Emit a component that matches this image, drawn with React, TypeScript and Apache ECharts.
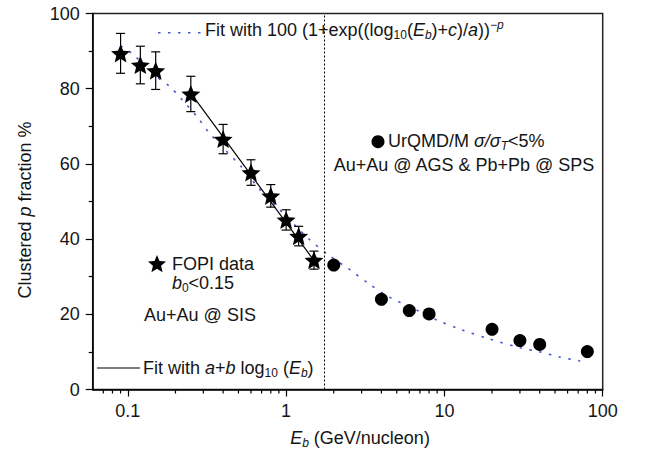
import React, { useEffect, useRef } from "react";
import * as echarts from "echarts";

// FOPI data (stars) with error bars
const fopiE = [0.09, 0.12, 0.15, 0.25, 0.4, 0.6, 0.8, 1.0, 1.2, 1.5];
const fopiY = [89.4, 86.3, 84.8, 78.6, 66.6, 57.7, 51.5, 45.1, 40.8, 34.4];
const fopiErr = [5.3, 5.0, 5.0, 4.7, 3.9, 3.4, 3.0, 2.7, 2.6, 2.4];

// UrQMD/M (circles)
const urqmdE = [2, 4, 6, 8, 20, 30, 40, 80];
const urqmdY = [33.1, 24.0, 21.0, 20.1, 16.0, 13.0, 12.0, 10.1];

// Linear-in-log fit a + b log10(Eb)
const linFitE = [0.25, 1.5];
const linFitY = [78.8, 34.3];

// Fit 100 (1+exp((log10(Eb)+c)/a))^-p
const fermiFitE = [0.09, 0.106, 0.153, 0.185, 0.219, 0.273, 0.322, 0.4, 0.525, 0.685, 0.873, 1.38, 1.85, 2.54, 3.31, 4.43, 6.7, 8.95, 12.6, 19.4, 30.1, 40.2, 53.8, 72];
const fermiFitY = [91.4, 89.4, 83.1, 80.5, 77.2, 72.6, 68.6, 64.3, 59.1, 53.1, 48.6, 40.2, 35.8, 31.8, 28.2, 24.7, 21.1, 18.5, 16.0, 13.4, 11.1, 10.0, 8.6, 7.6];

// Vertical separator position
const separatorE = 1.75;

// Axis ranges and ticks
const xMin = 0.06;
const xMax = 100;
const yMin = 0;
const yMax = 100;
const yInterval = 20;
const xMinorTicks = [0.07, 0.08, 0.09, 0.2, 0.3, 0.4, 0.5, 0.6, 0.7, 0.8, 0.9, 2, 3, 4, 5, 6, 7, 8, 9, 20, 30, 40, 50, 60, 70, 80, 90];

const FONT = "'Liberation Sans', Arial, Helvetica, sans-serif";
const BLUE = "#4558cc";
const TXT = "#151515";

const starOuterInner: number[][] = [
  [0, -10], [2.645, -3.64], [9.511, -3.09], [4.28, 1.39], [5.878, 8.09],
  [0, 4.5], [-5.878, 8.09], [-4.28, 1.39], [-9.511, -3.09], [-2.645, -3.64],
];
const starPath =
  "path://M" + starOuterInner.map((p) => p[0] + "," + p[1]).join("L") + "Z";

const rich = {
  n: { fontSize: 18, lineHeight: 22, fontFamily: FONT, fill: TXT, color: TXT },
  i: { fontSize: 18, lineHeight: 22, fontFamily: FONT, fontStyle: "italic", fill: TXT, color: TXT },
  sub: { fontSize: 12, lineHeight: 12, fontFamily: FONT, verticalAlign: "bottom", fill: TXT, color: TXT },
  isub: { fontSize: 12, lineHeight: 12, fontFamily: FONT, fontStyle: "italic", verticalAlign: "bottom", fill: TXT, color: TXT },
  isup: { fontSize: 12, lineHeight: 12, fontFamily: FONT, fontStyle: "italic", verticalAlign: "top", fill: TXT, color: TXT },
};

function txt(text: string, x: number, y: number, align: string, extra: any = {}) {
  return {
    type: "text",
    x,
    y,
    ...extra,
    style: {
      text,
      rich,
      font: `18px ${FONT}`,
      fill: TXT,
      align,
      verticalAlign: "middle",
    },
    z: 10,
  };
}

export default function App() {
  const ref = useRef<HTMLDivElement>(null);
  useEffect(() => {
    document.body.style.margin = "0";
    const chart = echarts.init(ref.current!, null, { renderer: "svg" });
    const option: any = {
      animation: false,
      grid: {
        left: 92.7,
        right: 43.3,
        top: 13.5,
        bottom: 64.5,
        show: true,
        borderColor: "#222",
        borderWidth: 1.5,
      },
      xAxis: {
        type: "log",
        logBase: 10,
        min: xMin,
        max: xMax,
        axisLine: { show: true, onZero: false, lineStyle: { color: "#000", width: 1.5 } },
        axisTick: { show: true, inside: false, length: 7, lineStyle: { color: "#000", width: 1.2 } },
        splitLine: { show: false },
        axisLabel: {
          fontSize: 18,
          fontFamily: FONT,
          color: TXT,
          margin: 12,
          showMinLabel: false,
          formatter: (v: number) => String(Number(v.toPrecision(6))),
        },
      },
      yAxis: {
        type: "value",
        min: yMin,
        max: yMax,
        interval: yInterval,
        axisLine: { show: true, onZero: false, lineStyle: { color: "#000", width: 1.5 } },
        axisTick: { show: true, inside: false, length: 7, lineStyle: { color: "#000", width: 1.2 } },
        minorTick: { show: true, splitNumber: 2, length: 4, lineStyle: { color: "#000", width: 1.2 } },
        splitLine: { show: false },
        minorSplitLine: { show: false },
        axisLabel: { fontSize: 18, fontFamily: FONT, color: TXT, margin: 13 },
      },
      series: [
        {
          type: "line",
          name: "Fermi fit",
          data: fermiFitE.map((e, i) => [e, fermiFitY[i]]),
          showSymbol: false,
          smooth: 0.3,
          lineStyle: { color: BLUE, width: 1.6, type: [2.5, 7.5] },
          z: 1,
          markLine: {
            silent: true,
            symbol: ["none", "none"],
            label: { show: false },
            lineStyle: { color: "#000", type: [2, 2], width: 1 },
            data: [{ xAxis: separatorE }],
          },
        },
        {
          type: "line",
          name: "Linear fit",
          data: linFitE.map((e, i) => [e, linFitY[i]]),
          showSymbol: false,
          lineStyle: { color: "#000", width: 1.2 },
          z: 2,
        },
        {
          type: "custom",
          name: "FOPI errors",
          clip: false,
          data: fopiE.map((e, i) => [e, fopiY[i], fopiErr[i]]),
          renderItem: (params: any, api: any) => {
            const x = api.value(0);
            const y = api.value(1);
            const d = api.value(2);
            const t = api.coord([x, y + d]);
            const b = api.coord([x, y - d]);
            const w = 4.5;
            const st = { stroke: "#000", lineWidth: 1.2 };
            return {
              type: "group",
              children: [
                { type: "line", shape: { x1: t[0], y1: t[1], x2: b[0], y2: b[1] }, style: st },
                { type: "line", shape: { x1: t[0] - w, y1: t[1], x2: t[0] + w, y2: t[1] }, style: st },
                { type: "line", shape: { x1: b[0] - w, y1: b[1], x2: b[0] + w, y2: b[1] }, style: st },
              ],
            };
          },
          z: 3,
        },
        {
          type: "scatter",
          name: "FOPI data",
          data: fopiE.map((e, i) => [e, fopiY[i]]),
          symbol: starPath,
          symbolSize: [19, 19],
          symbolKeepAspect: true,
          itemStyle: { color: "#000", opacity: 1 },
          z: 4,
        },
        {
          type: "scatter",
          name: "UrQMD/M",
          data: urqmdE.map((e, i) => [e, urqmdY[i]]),
          symbol: "circle",
          symbolSize: 13,
          itemStyle: { color: "#000", opacity: 1 },
          z: 4,
        },
        {
          type: "custom",
          name: "minor ticks",
          clip: false,
          silent: true,
          data: xMinorTicks.map((v) => [v, yMin]),
          renderItem: (params: any, api: any) => {
            const p = api.coord([api.value(0), yMin]);
            return {
              type: "line",
              shape: { x1: p[0], y1: p[1], x2: p[0], y2: p[1] + 4 },
              style: { stroke: "#000", lineWidth: 1.2 },
            };
          },
          z: 5,
        },
      ],
      graphic: [
        {
          type: "line",
          shape: { x1: 158, y1: 32.7, x2: 201, y2: 32.7 },
          style: { stroke: BLUE, lineWidth: 1.6, lineDash: [2.5, 7.5] },
          z: 10,
        },
        txt("{n|Fit with 100 (1+exp((log}{sub|10}{n|(}{i|E}{isub|b}{n|)+}{i|c}{n|)/}{i|a}{n|))}{isup|−p}", 205, 30, "left"),
        { type: "circle", shape: { cx: 378, cy: 141.7, r: 6.5 }, style: { fill: "#000" }, z: 10 },
        txt("{n|UrQMD/M }{i|σ/σ}{isub|T}{n|<5%}", 388, 141, "left"),
        txt("{n|Au+Au @ AGS & Pb+Pb @ SPS}", 464, 165, "center"),
        {
          type: "polygon",
          shape: { points: starOuterInner.map((p) => [157 + p[0] * 0.95, 264.5 + p[1] * 0.95]) },
          style: { fill: "#000" },
          z: 10,
        },
        txt("{n|FOPI data}", 172, 264, "left"),
        txt("{i|b}{sub|0}{n|<0.15}", 203, 283, "center"),
        txt("{n|Au+Au @ SIS}", 200, 315, "center"),
        {
          type: "line",
          shape: { x1: 97, y1: 368, x2: 140, y2: 368 },
          style: { stroke: "#000", lineWidth: 1.2 },
          z: 10,
        },
        txt("{n|Fit with }{i|a}{n|+}{i|b}{n| log}{sub|10}{n| (}{i|E}{isub|b}{n|)}", 143, 368, "left"),
        txt("{i|E}{isub|b}{n| (GeV/nucleon)}", 360, 438, "center"),
        txt("{n|Clustered }{i|p}{n| fraction %}", 25, 210, "center", { rotation: Math.PI / 2 }),
      ],
    };
    chart.setOption(option);
    return () => chart.dispose();
  }, []);
  return <div ref={ref} style={{ width: 646, height: 454 }} />;
}
